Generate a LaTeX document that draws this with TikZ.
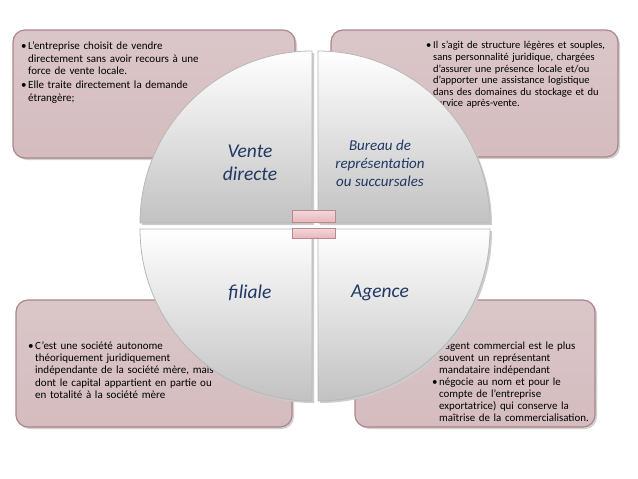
\documentclass[tikz,border=0pt]{standalone}
\usepackage{fontspec}
\setmainfont{Carlito}

\definecolor{boxfill}{RGB}{212,188,191}
\definecolor{boxline}{RGB}{172,134,139}
\definecolor{labelblue}{RGB}{31,56,100}
\definecolor{barfill}{RGB}{232,184,189}
\definecolor{barline}{RGB}{188,136,142}

\tikzset{
  infobox/.style={draw=boxline, line width=1.2pt, rounded corners=12pt,
    top color=boxfill!85!white, bottom color=boxfill},
  boxshadow/.style={fill=black!40, opacity=0.45, rounded corners=12pt},
  quarter/.style={draw=black!28, line width=0.8pt, top color=white, bottom color=black!24},
  quartertext/.style={text=labelblue, align=center, inner sep=0pt},
  bullettext/.style={anchor=north west, inner sep=0pt, align=left, text=black},
  bar/.style={draw=barline, line width=0.8pt, top color=barfill!55!white, bottom color=barfill}
}

\newcommand{\puceitem}[1]{\par\noindent\hangindent=7pt\hangafter=1%
  \makebox[7pt][l]{\textbullet}#1\par}

\begin{document}
\begin{tikzpicture}[x=1pt,y=-1pt]
\useasboundingbox[fill=white] (0,0) rectangle (638,479);

% Boxes
\fill[boxshadow] (15,32) rectangle (297,160);
\draw[infobox] (13,30) rectangle (295,158);
\fill[boxshadow] (333,32) rectangle (620,159);
\draw[infobox] (331,30) rectangle (618,157);
\fill[boxshadow] (18,302) rectangle (294,429);
\draw[infobox] (16,300) rectangle (292,427);
\fill[boxshadow] (357,302) rectangle (597,429);
\draw[infobox] (355,300) rectangle (595,427);

% Box texts
\node[bullettext, text width=220pt, font=\fontsize{11}{12.5}\selectfont] (tltext) at (21,37)
  {\puceitem{L'entreprise choisit de vendre\newline directement sans avoir recours à une\newline force de vente locale.}%
   \vspace{1.5pt}\puceitem{Elle traite directement la demande\newline étrangère;}};
\node[bullettext, text width=220pt, font=\fontsize{10.5}{11.6}\selectfont] (trtext) at (426,37)
  {\puceitem{Il s'agit de structure légères et souples,\newline sans personnalité juridique, chargées\newline d'assurer une présence locale et/ou\newline d'apporter une assistance logistique\newline dans des domaines du stockage et du\newline service après-vente.}};
\node[bullettext, text width=220pt, font=\fontsize{11}{12.2}\selectfont] (bltext) at (28,337)
  {\puceitem{C'est une société autonome\newline théoriquement juridiquement\newline indépendante de la société mère, mais\newline dont le capital appartient en partie ou\newline en totalité à la société mère}};
\node[bullettext, text width=220pt, font=\fontsize{10.9}{12}\selectfont] (brtext) at (432,337)
  {\puceitem{L'agent commercial est le plus\newline souvent un représentant\newline mandataire indépendant}%
   \puceitem{négocie au nom et pour le\newline compte de l'entreprise\newline exportatrice) qui conserve la\newline maîtrise de la commercialisation.}};

% Circle quarters
\fill[black!20] (314,225) -- ++(-172,0) arc[start angle=180, end angle=270, radius=172] -- cycle;
\draw[quarter] (312,223) -- ++(-172,0) arc[start angle=180, end angle=270, radius=172] -- cycle;
\fill[black!20] (320,225) -- ++(0,-172) arc[start angle=270, end angle=360, radius=172] -- cycle;
\draw[quarter] (318,223) -- ++(0,-172) arc[start angle=270, end angle=360, radius=172] -- cycle;
\fill[black!20] (314,231) -- ++(-172,0) arc[start angle=180, end angle=90, radius=172] -- cycle;
\draw[quarter] (312,229) -- ++(-172,0) arc[start angle=180, end angle=90, radius=172] -- cycle;
\fill[black!20] (320,231) -- ++(172,0) arc[start angle=0, end angle=90, radius=172] -- cycle;
\draw[quarter] (318,229) -- ++(172,0) arc[start angle=0, end angle=90, radius=172] -- cycle;

% Quarter labels
\node[quartertext, font=\itshape\fontsize{19.5}{23}\selectfont] (vente) at (250,163) {Vente\\directe};
\node[quartertext, font=\itshape\fontsize{15}{18}\selectfont] (bureau) at (380,163) {Bureau de\\représentation\\ou succursales};
\node[quartertext, font=\itshape\fontsize{19.5}{23}\selectfont] (filiale) at (250,293) {filiale};
\node[quartertext, font=\itshape\fontsize{19.5}{23}\selectfont] (agence) at (380,293) {Agence};

% Equals sign
\draw[bar] (292,210) rectangle (335,222);
\draw[bar] (292,228) rectangle (335,238);

\end{tikzpicture}
\end{document}
